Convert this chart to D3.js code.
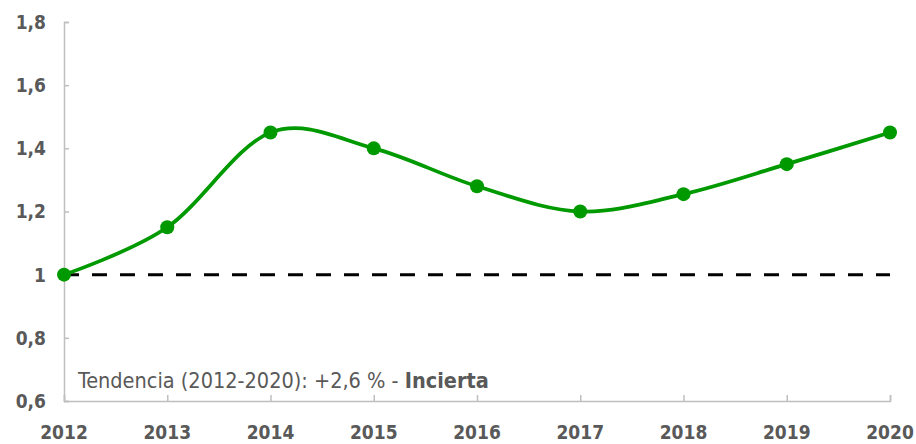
<!DOCTYPE html>
<html>
<head>
<meta charset="utf-8">
<script src="https://cdn.jsdelivr.net/npm/d3@7"></script>
<style>
  body { margin: 0; background: #fff; }
  svg text { font-family: "DejaVu Sans Condensed", "DejaVu Sans", Verdana, sans-serif; fill: #595959; }
</style>
</head>
<body>
<div id="chart"></div>
<script>
"use strict";

// data
var years = [2012, 2013, 2014, 2015, 2016, 2017, 2018, 2019, 2020];
var values = [1.0, 1.15, 1.45, 1.40, 1.28, 1.20, 1.255, 1.35, 1.45];
var baseline = [1, 1];
var yTicks = [0.6, 0.8, 1.0, 1.2, 1.4, 1.6, 1.8];
var note = "Tendencia (2012-2020): +2,6 % - ";
var noteBold = "Incierta";

var width = 916, height = 444;
var margin = { top: 22, right: 26, bottom: 43, left: 64 };

var svg = d3.select("#chart").append("svg")
  .attr("width", width).attr("height", height);

var x = d3.scaleLinear().domain([2012, 2020]).range([margin.left, width - margin.right]);
var y = d3.scaleLinear().domain([0.6, 1.8]).range([height - margin.bottom, margin.top]);

var fmt = function(d) { return d3.format("")(+d.toFixed(1)).replace(".", ","); };

// y axis
var yAxis = d3.axisRight(y).tickValues(yTicks).tickSize(5).tickFormat("");
var gy = svg.append("g").attr("transform", "translate(" + margin.left + ",0)").call(yAxis);
gy.select(".domain").attr("stroke", "#bfbfbf").attr("stroke-width", 1.5);
gy.selectAll(".tick line").attr("stroke", "#bfbfbf").attr("stroke-width", 1.5);

svg.selectAll(".ylab").data(yTicks).enter().append("text")
  .attr("x", margin.left - 18).attr("y", function(d) { return y(d); })
  .attr("dy", "0.36em").attr("text-anchor", "end")
  .style("font-size", "19px").style("font-weight", "bold")
  .text(fmt);

// x axis
var xAxis = d3.axisTop(x).tickValues(years).tickSize(6).tickFormat("");
var gx = svg.append("g").attr("transform", "translate(0," + y(0.6) + ")").call(xAxis);
gx.select(".domain").attr("stroke", "#bfbfbf").attr("stroke-width", 1.5);
gx.selectAll(".tick line").attr("stroke", "#bfbfbf").attr("stroke-width", 1.5);

svg.selectAll(".xlab").data(years).enter().append("text")
  .attr("x", function(d) { return x(d); }).attr("y", 439)
  .attr("text-anchor", "middle")
  .style("font-size", "19px").style("font-weight", "bold")
  .text(function(d) { return d; });

// reference line at 1
svg.append("line")
  .attr("x1", x(years[0])).attr("x2", x(years[years.length - 1]))
  .attr("y1", y(baseline[0])).attr("y2", y(baseline[1]))
  .attr("stroke", "#000").attr("stroke-width", 3)
  .attr("stroke-dasharray", "15,13");

// smoothed series
var line = d3.line()
  .x(function(d, i) { return x(years[i]); })
  .y(function(d) { return y(d); })
  .curve(d3.curveCatmullRom.alpha(0));

svg.append("path").datum(values)
  .attr("d", line)
  .attr("fill", "none").attr("stroke", "#009900").attr("stroke-width", 3.75);

svg.selectAll(".pt").data(values).enter().append("circle")
  .attr("cx", function(d, i) { return x(years[i]); })
  .attr("cy", function(d) { return y(d); })
  .attr("r", 7).attr("fill", "#009900");

// trend note
var t = svg.append("text").attr("x", 78).attr("y", 388).style("font-size", "21.5px");
t.append("tspan").text(note);
t.append("tspan").style("font-weight", "bold").text(noteBold);
</script>
</body>
</html>
